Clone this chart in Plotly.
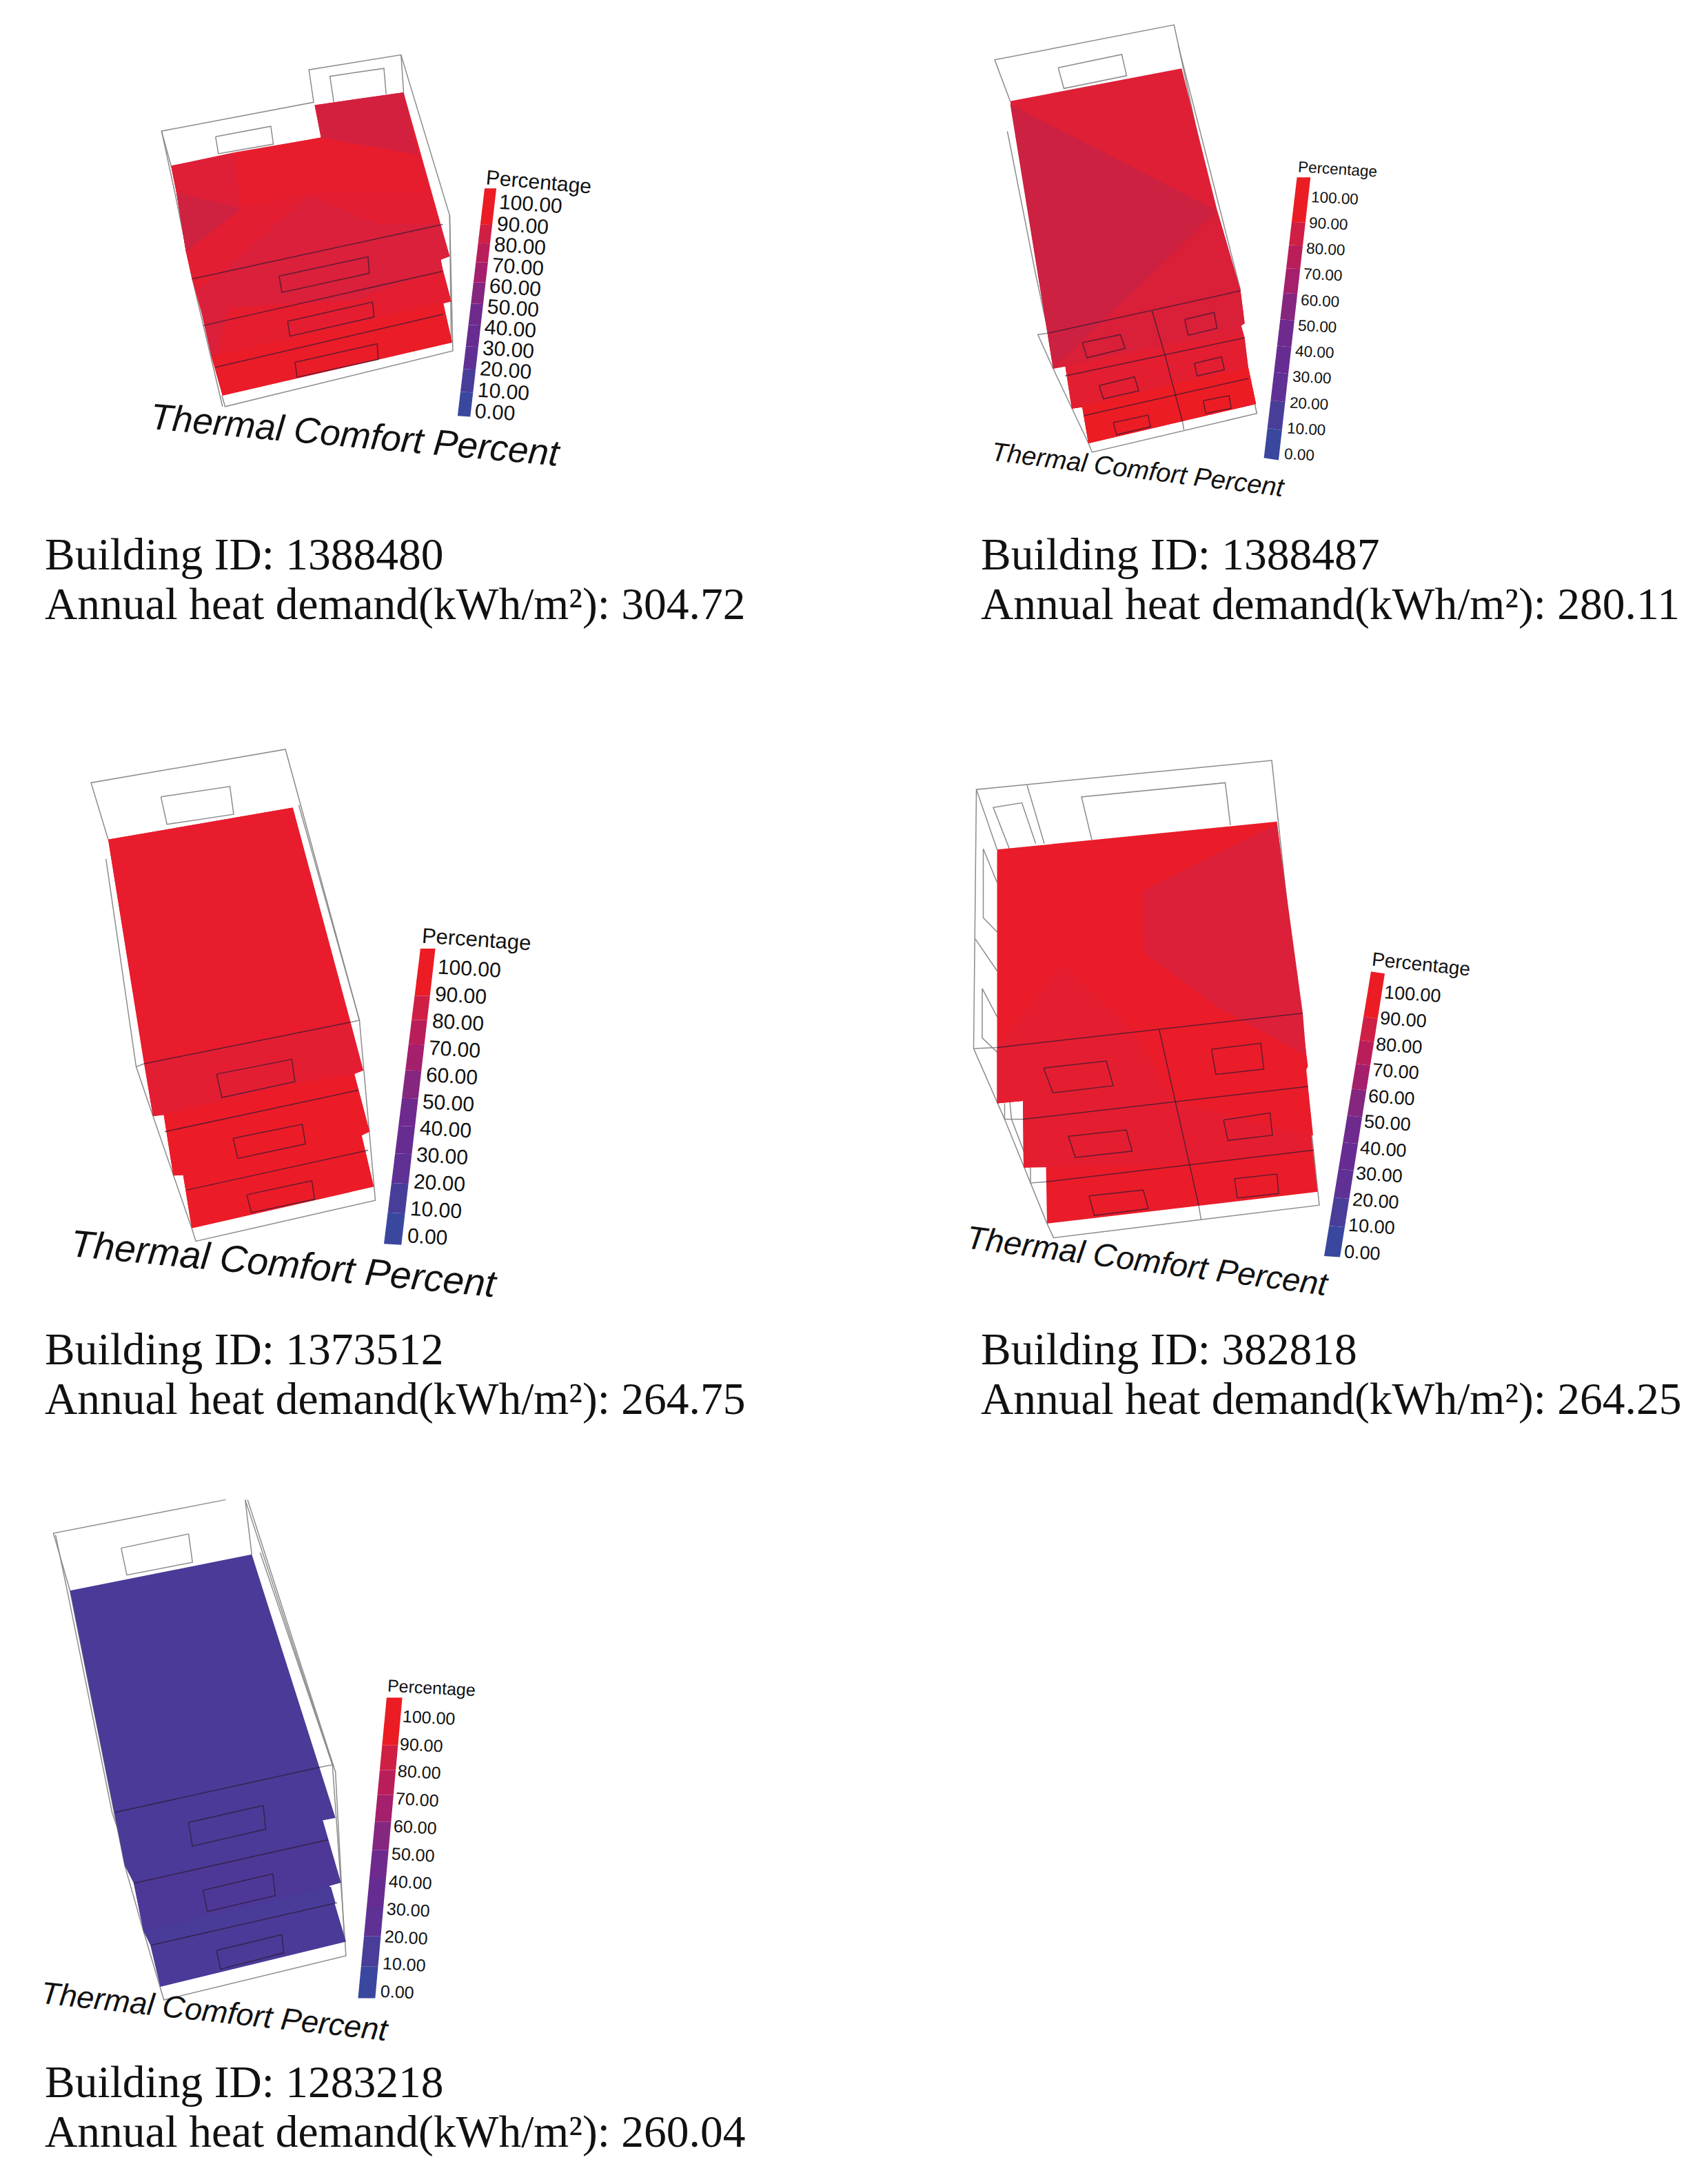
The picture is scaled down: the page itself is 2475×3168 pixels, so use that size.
import plotly.graph_objects as go

# the page body keeps an 8px margin, so the figure is drawn 16px smaller and the axes start at 8
PAGE_WIDTH = 2475
PAGE_HEIGHT = 3168
BODY_MARGIN = 8

tick_labels = ["100.00", "90.00", "80.00", "70.00", "60.00", "50.00", "40.00", "30.00", "20.00", "10.00", "0.00"]
band_edges = [0, 0.106, 0.206, 0.306, 0.4, 0.494, 0.588, 0.676, 0.759, 0.841, 1]
band_colors = ["#3A479E", "#483E9A", "#5F3194", "#672C91", "#6F2A8E", "#85267F", "#A41F6C", "#BA1E5A", "#CF1F44", "#EC1C24"]

building_ids = ["1388480", "1388487", "1373512", "382818", "1283218"]
heat_demand = ["304.72", "280.11", "264.75", "264.25", "260.04"]
text_x = [64, 1422, 64, 1422, 64]
text_y = [804, 804, 1957, 1957, 3020]

# crop = origin x, y and crop scale x, y
p1_crop = (180, 50, 2.17, 2.44)
p1_slab = [(600, 250), (880, 205), (1025, 785), (997, 797), (1003, 830), (1030, 945), (1003, 952), (1033, 1090), (310, 1278), (275, 1140), (245, 990), (215, 870), (195, 770), (165, 560), (148, 465), (620, 365)]
p1_regions = [
    ("#E31E33", [(148, 465), (620, 365), (925, 425), (990, 670), (800, 670), (580, 570), (290, 860), (215, 870), (195, 770), (165, 560)]),
    ("#E71D2D", [(345, 418), (620, 365), (900, 420), (960, 560), (580, 560), (370, 615)]),
    ("#D4203F", [(600, 250), (880, 205), (925, 425), (680, 378), (620, 365)]),
    ("#DF1F37", [(148, 465), (345, 418), (370, 615), (195, 770), (165, 560)]),
    ("#CF2240", [(165, 560), (370, 615), (195, 770)]),
    ("#DA203A", [(580, 570), (800, 670), (995, 670), (1025, 785), (997, 797), (1003, 830), (730, 940), (330, 965), (290, 1130), (275, 1140), (245, 990), (230, 900), (290, 860)]),
    ("#E41E30", [(730, 940), (1003, 830), (1030, 945), (1003, 952), (300, 1130)]),
    ("#EA1C28", [(275, 1140), (1005, 950), (1033, 1090), (310, 1278)]),
]
p1_floors = [[(215, 865), (1003, 672)], [(250, 1030), (1003, 838)], [(288, 1178), (1005, 990)]]
p1_windows = [
    [(488, 855), (768, 787), (772, 845), (497, 913), (488, 855)],
    [(515, 1015), (782, 947), (787, 1000), (522, 1068), (515, 1015)],
    [(538, 1160), (797, 1095), (800, 1150), (545, 1213), (538, 1160)],
]
p1_wire = [
    [(148, 465), (118, 342), (597, 240), (582, 125), (872, 72), (890, 140), (1025, 640), (1035, 1120), (318, 1317), (308, 1278)],
    [(118, 342), (160, 560), (215, 865), (310, 1317)],
    [(872, 72), (880, 205)],
    [(1025, 640), (1030, 1090)],
    [(288, 362), (462, 325), (470, 388), (297, 422), (288, 362)],
    [(660, 238), (648, 148), (818, 120), (825, 210)],
]
p1_bar = [(1135, 545), (1172, 545), (1090, 1353), (1050, 1350)]
p1_pct = (1305, 520, 5, 30)
p1_ticks = (1176, 600, 1100, 1335, 4, 30)
p1_title = (728, 1416, 5.2, 53)

p2_crop = (1400, 20, 2.44, 2.17)
p2_slab = [(160, 275), (767, 172), (893, 620), (975, 870), (990, 975), (978, 982), (990, 1020), (1003, 1115), (1030, 1228), (437, 1352), (415, 1238), (378, 1243), (355, 1110), (312, 1117)]
p2_regions = [
    ("#CC2141", [(160, 285), (893, 620), (312, 1117)]),
    ("#DA1F39", [(893, 620), (975, 870), (990, 975), (700, 1045), (355, 1110), (312, 1117)]),
    ("#E31E30", [(355, 1110), (720, 1040), (985, 1015), (1003, 1115), (1030, 1228), (437, 1352), (415, 1238), (378, 1243)]),
    ("#EC1C24", [(378, 1243), (740, 1165), (1003, 1115), (1030, 1228), (437, 1352), (415, 1238)]),
]
p2_floors = [
    [(295, 1005), (975, 872)], [(355, 1140), (990, 1020)], [(420, 1265), (1003, 1148)],
    [(662, 935), (708, 1075), (745, 1200), (770, 1285)],
]
p2_windows = [
    [(415, 1035), (550, 1010), (567, 1053), (432, 1083), (415, 1035)],
    [(778, 962), (882, 940), (892, 990), (790, 1012), (778, 962)],
    [(475, 1170), (600, 1143), (615, 1187), (490, 1212), (475, 1170)],
    [(812, 1100), (908, 1080), (918, 1120), (822, 1140), (812, 1100)],
    [(525, 1287), (648, 1263), (657, 1300), (537, 1325), (525, 1287)],
    [(843, 1218), (935, 1202), (942, 1242), (852, 1258), (843, 1218)],
]
p2_wire = [
    [(160, 275), (105, 145), (740, 35), (1033, 1258), (450, 1380), (437, 1352)],
    [(150, 370), (250, 820), (295, 1005), (258, 1010), (312, 1117), (378, 1243), (437, 1352)],
    [(755, 100), (975, 870)],
    [(770, 1285), (775, 1310)],
    [(330, 170), (555, 128), (572, 195), (350, 235), (330, 170)],
]
p2_bar = [(1175, 515), (1223, 515), (1110, 1405), (1058, 1398)]
p2_pct = (1320, 490, 3.5, 22.5)
p2_ticks = (1222, 580, 1125, 1388, 3, 22.5)
p2_title = (612, 1435, 7.1, 38)

p3_crop = (80, 1060, 2.17, 1.857)
p3_slab = [(167, 293), (748, 207), (970, 915), (942, 925), (990, 1080), (965, 1090), (1003, 1228), (430, 1340), (403, 1197), (372, 1198), (342, 1035), (308, 1038)]
p3_regions = [
    ("#E81C2D", [(167, 293), (748, 207), (930, 785), (280, 897)]),
    ("#E31E32", [(280, 897), (930, 785), (970, 915), (700, 960), (342, 1035), (308, 1038)]),
    ("#EB1C28", [(342, 1035), (700, 960), (942, 925), (990, 1080), (965, 1090), (1003, 1228), (430, 1340), (403, 1197), (372, 1198)]),
]
p3_floors = [[(280, 897), (930, 785)], [(345, 1080), (955, 968)], [(415, 1237), (985, 1130)]]
p3_windows = [
    [(508, 925), (745, 885), (755, 945), (525, 988), (508, 925)],
    [(560, 1098), (778, 1060), (788, 1113), (575, 1152), (560, 1098)],
    [(603, 1250), (808, 1212), (817, 1262), (618, 1298), (603, 1250)],
]
p3_wire = [
    [(167, 293), (113, 140), (725, 50), (958, 780), (1008, 1265), (443, 1375), (430, 1340)],
    [(160, 345), (255, 905), (308, 1038), (372, 1198), (430, 1340)],
    [(767, 200), (958, 780), (930, 785)],
    [(255, 905), (280, 897)],
    [(333, 178), (550, 150), (562, 225), (352, 252), (333, 178)],
]
p3_bar = [(1150, 587), (1197, 587), (1090, 1385), (1035, 1382)]
p3_pct = (1328, 562, 4, 31)
p3_ticks = (1201, 640, 1104, 1362, 3.5, 30)
p3_title = (720, 1436, 5.5, 55.2)

p4_crop = (1380, 1080, 2.0, 1.95)
p4_slab = [(133, 297), (945, 218), (1035, 910), (1030, 920), (1050, 1105), (1045, 1105), (1063, 1265), (278, 1355), (275, 1192), (210, 1197), (208, 1008), (133, 1015)]
p4_regions = [
    ("#E41E30", [(133, 1015), (133, 860), (320, 620), (520, 800), (650, 1010), (1045, 1105), (1030, 900), (1045, 1150), (600, 1190), (210, 1197), (208, 1008)]),
    ("#DC203A", [(945, 225), (555, 415), (560, 590), (770, 740), (1030, 880), (1020, 760)]),
]
p4_floors = [
    [(133, 857), (1020, 760)], [(208, 1060), (1035, 967)], [(275, 1237), (1052, 1147)],
    [(603, 805), (650, 1010), (692, 1190), (718, 1303)],
]
p4_windows = [
    [(268, 915), (450, 895), (470, 965), (295, 985), (268, 915)],
    [(755, 862), (898, 845), (907, 918), (768, 933), (755, 862)],
    [(340, 1108), (508, 1090), (525, 1150), (360, 1168), (340, 1108)],
    [(790, 1062), (925, 1042), (932, 1105), (803, 1120), (790, 1062)],
    [(400, 1277), (557, 1260), (572, 1313), (415, 1332), (400, 1277)],
    [(822, 1228), (945, 1215), (950, 1270), (830, 1283), (822, 1228)],
]
p4_wire = [
    [(133, 297), (73, 127), (930, 45), (1068, 1303), (297, 1395), (278, 1355)],
    [(220, 115), (270, 280)],
    [(170, 298), (122, 178), (205, 165), (245, 280)],
    [(133, 390), (93, 295), (93, 490), (133, 530)],
    [(70, 550), (133, 640)],
    [(133, 870), (90, 830), (90, 690), (133, 770)],
    [(73, 127), (65, 860), (155, 1060), (278, 1355)],
    [(65, 860), (133, 857)],
    [(170, 1010), (175, 1060), (230, 1200), (230, 1240), (275, 1237)],
    [(155, 1015), (155, 1060), (208, 1060)],
    [(408, 270), (378, 148), (795, 108), (810, 228)],
    [(718, 1303), (725, 1345)],
]
p4_bar = [(1218, 642), (1258, 648), (1128, 1450), (1082, 1447)]
p4_pct = (1363, 622, 6, 28)
p4_ticks = (1252, 705, 1136, 1437, 4, 27)
p4_title = (570, 1460, 7.5, 47)

p5_crop = (50, 2160, 2.29, 1.95)
p5_slab = [(118, 287), (722, 185), (1000, 930), (958, 937), (1018, 1113), (980, 1122), (1035, 1280), (418, 1408), (385, 1290), (362, 1250), (330, 1115), (300, 1065)]
p5_regions = [
    ("#4E3897", [(330, 1115), (975, 992), (1018, 1113), (980, 1122), (362, 1250)]),
    ("#493C99", [(362, 1250), (985, 1125), (1000, 1170), (388, 1290)]),
]
p5_floors = [[(265, 915), (948, 787)], [(330, 1115), (975, 992)], [(388, 1290), (1005, 1170)]]
p5_windows = [
    [(512, 943), (760, 895), (768, 962), (525, 1010), (512, 943)],
    [(560, 1135), (792, 1088), (800, 1150), (575, 1195), (560, 1135)],
    [(605, 1305), (822, 1260), (828, 1312), (618, 1358), (605, 1305)],
]
p5_wire = [
    [(635, 30), (63, 125), (118, 287), (265, 915), (300, 1065), (362, 1250), (418, 1408), (430, 1445), (1035, 1320), (990, 780), (700, 30), (722, 185)],
    [(70, 130), (112, 300), (258, 915), (318, 1065), (370, 1250)],
    [(750, 180), (990, 780), (948, 787)],
    [(708, 30), (1000, 800), (1030, 1280)],
    [(288, 167), (512, 127), (525, 207), (307, 243), (288, 167)],
]
p5_bar = [(1170, 590), (1222, 590), (1132, 1440), (1075, 1440)]
p5_pct = (1320, 562, 3, 25)
p5_ticks = (1218, 645, 1145, 1422, 3, 25)
p5_title = (600, 1478, 6.2, 45)

panels = [
    (p1_crop, "#E61D2F", p1_slab, p1_regions, p1_floors, p1_windows, p1_wire, p1_bar, p1_pct, p1_ticks, p1_title),
    (p2_crop, "#DF1F36", p2_slab, p2_regions, p2_floors, p2_windows, p2_wire, p2_bar, p2_pct, p2_ticks, p2_title),
    (p3_crop, "#E81C2D", p3_slab, p3_regions, p3_floors, p3_windows, p3_wire, p3_bar, p3_pct, p3_ticks, p3_title),
    (p4_crop, "#EA1C2A", p4_slab, p4_regions, p4_floors, p4_windows, p4_wire, p4_bar, p4_pct, p4_ticks, p4_title),
    (p5_crop, "#4B3A97", p5_slab, p5_regions, p5_floors, p5_windows, p5_wire, p5_bar, p5_pct, p5_ticks, p5_title),
]


def to_page(points, crop):
    ox, oy, fx, fy = crop
    return [ox + px / fx for px, _ in points], [oy + py / fy for _, py in points]


def add_poly(fig, points, crop, color):
    xs, ys = to_page(points, crop)
    fig.add_trace(go.Scatter(x=xs + xs[:1], y=ys + ys[:1], mode="lines", fill="toself", fillcolor=color,
                             line=dict(width=0), hoverinfo="skip", showlegend=False))


def add_line(fig, points, crop, color, width):
    xs, ys = to_page(points, crop)
    fig.add_trace(go.Scatter(x=xs, y=ys, mode="lines", line=dict(color=color, width=width),
                             hoverinfo="skip", showlegend=False))


def label(fig, text, x, y, angle, size, anchor="center", family="Liberation Sans", style="normal"):
    fig.add_annotation(x=x, y=y, xref="x", yref="y", text=text, showarrow=False, textangle=angle,
                       xanchor=anchor, yanchor="middle", borderpad=0,
                       font=dict(family=family, size=size, color="#111111", style=style))


fig = go.Figure()

for crop, base, slab, regions, floors, windows, wire, bar, pct, ticks, title in panels:
    for seg in wire:
        add_line(fig, seg, crop, "#8C8C8C", 1.5)
    add_poly(fig, slab, crop, base)
    for color, pts in regions:
        add_poly(fig, pts, crop, color)
    for seg in floors + windows:
        add_line(fig, seg, crop, "rgba(45,25,50,0.7)", 1.5)

    # colour key, bottom to top along the tilted bar
    tl, tr, br, bl = bar
    for i, color in enumerate(band_colors):
        a, b = band_edges[i], band_edges[i + 1]
        add_poly(fig, [
            (bl[0] + (tl[0] - bl[0]) * a, bl[1] + (tl[1] - bl[1]) * a),
            (br[0] + (tr[0] - br[0]) * a, br[1] + (tr[1] - br[1]) * a),
            (br[0] + (tr[0] - br[0]) * b, br[1] + (tr[1] - br[1]) * b),
            (bl[0] + (tl[0] - bl[0]) * b, bl[1] + (tl[1] - bl[1]) * b),
        ], crop, color)

    xs, ys = to_page([pct[:2]], crop)
    label(fig, "Percentage", xs[0], ys[0], pct[2], pct[3])

    x0, y0, x1, y1, angle, size = ticks
    for i, tick in enumerate(tick_labels):
        t = i / (len(tick_labels) - 1)
        xs, ys = to_page([(x0 + (x1 - x0) * t, y0 + (y1 - y0) * t)], crop)
        label(fig, tick, xs[0], ys[0], angle, size, anchor="left")

    xs, ys = to_page([title[:2]], crop)
    label(fig, "Thermal Comfort Percent", xs[0], ys[0], title[2], title[3], style="italic")

for bid, demand, x, y in zip(building_ids, heat_demand, text_x, text_y):
    label(fig, f"Building ID: {bid}", x, y, 0, 65.5, anchor="left", family="Liberation Serif")
    label(fig, f"Annual heat demand(kWh/m²): {demand}", x, y + 72, 0, 65.5, anchor="left", family="Liberation Serif")

fig.update_xaxes(range=[BODY_MARGIN, PAGE_WIDTH - BODY_MARGIN], visible=False)
fig.update_yaxes(range=[PAGE_HEIGHT - BODY_MARGIN, BODY_MARGIN], visible=False)
fig.update_layout(width=PAGE_WIDTH - 2 * BODY_MARGIN, height=PAGE_HEIGHT - 2 * BODY_MARGIN, autosize=False,
                  margin=dict(l=0, r=0, t=0, b=0), paper_bgcolor="white", plot_bgcolor="white", showlegend=False)

fig.write_html("out.html")
